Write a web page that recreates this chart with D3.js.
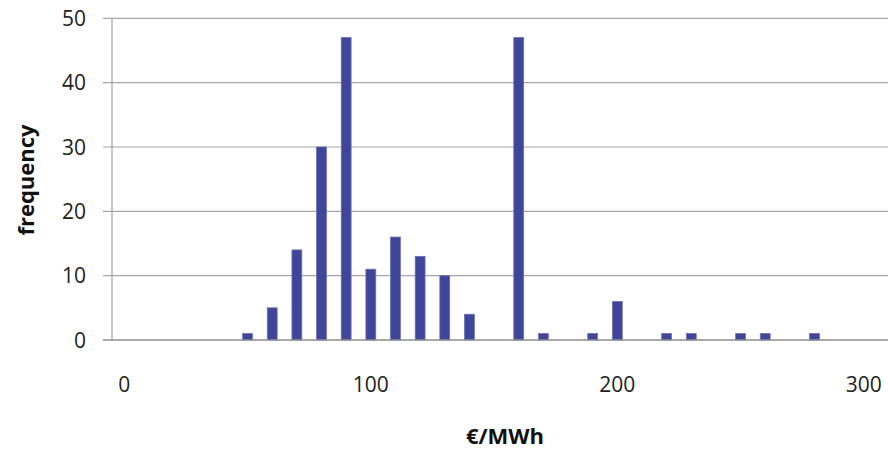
<!DOCTYPE html>
<html><head><meta charset="utf-8">
<script src="https://cdn.jsdelivr.net/npm/d3@7"></script>
<style>body{margin:0;background:#fff}svg{display:block}</style>
</head><body>
<script>
const categories = d3.range(0, 320, 10); // 0..310 €/MWh bins
const binValues = [0,10,20,30,40,50,60,70,80,90,100,110,120,130,140,150,160,170,180,190,200,210,220,230,240,250,260,270,280];
const frequencies = [0,0,0,0,0,1,5,14,30,47,11,16,13,10,4,0,47,1,0,1,6,0,1,1,0,1,1,0,1];
const xTickLabels = [0,100,200,300];
const yTicks = [0,10,20,30,40,50];

const W = 888, H = 449;
const plotLeft = 112, plotTop = 18.3, plotBottom = 340;
const step = 24.65;

const svg = d3.select("body").append("svg").attr("width", W).attr("height", H);
svg.append("rect").attr("width", W).attr("height", H).attr("fill", "#fff");

const x = d3.scaleBand().domain(categories).range([plotLeft, plotLeft + step * categories.length]).paddingInner(0.6).paddingOuter(0.3);
const y = d3.scaleLinear().domain([0, 50]).range([plotBottom, plotTop]);

const font = "'Open Sans', 'DejaVu Sans', sans-serif";

// gridlines
svg.append("g").selectAll("line").data(yTicks.filter(d => d > 0)).join("line")
  .attr("x1", plotLeft - 9).attr("x2", W).attr("y1", d => y(d)).attr("y2", d => y(d))
  .attr("stroke", "#a6a6a6").attr("stroke-width", 1.2);

// y axis line
svg.append("line").attr("x1", plotLeft).attr("x2", plotLeft).attr("y1", plotTop).attr("y2", plotBottom)
  .attr("stroke", "#a0a0a0").attr("stroke-width", 1.2);

// y tick labels
svg.append("g").selectAll("text").data(yTicks).join("text")
  .attr("x", 86).attr("y", d => y(d)).attr("dy", "0.36em").attr("text-anchor", "end")
  .attr("font-family", font).attr("font-size", 21).attr("fill", "#222").text(d => d);

// bars
const data = binValues.map((b, i) => ({b, v: frequencies[i]}));
svg.append("g").selectAll("rect").data(data.filter(d => d.v > 0)).join("rect")
  .attr("x", d => x(d.b)).attr("width", x.bandwidth())
  .attr("y", d => y(d.v)).attr("height", d => y(0) - y(d.v))
  .attr("fill", "#3f4699").attr("stroke", "#6a70b6").attr("stroke-width", 0.8);

// x axis line
svg.append("line").attr("x1", plotLeft - 9).attr("x2", W).attr("y1", plotBottom).attr("y2", plotBottom)
  .attr("stroke", "#8c8c8c").attr("stroke-width", 1.4);

// x tick labels
svg.append("g").selectAll("text").data(xTickLabels).join("text")
  .attr("x", d => x(d) + x.bandwidth() / 2).attr("y", 384).attr("dy", "0.36em").attr("text-anchor", "middle")
  .attr("font-family", font).attr("font-size", 21).attr("fill", "#222").text(d => d);

// axis titles
svg.append("text").attr("x", 505).attr("y", 436).attr("dy", "0.36em").attr("text-anchor", "middle")
  .attr("font-family", font).attr("font-size", 22).attr("font-weight", "bold").attr("fill", "#111").text("€/MWh");
svg.append("text").attr("transform", "translate(26,180) rotate(-90)").attr("dy", "0.36em").attr("text-anchor", "middle")
  .attr("font-family", font).attr("font-size", 22).attr("font-weight", "bold").attr("fill", "#111").text("frequency");
</script>
</body></html>
